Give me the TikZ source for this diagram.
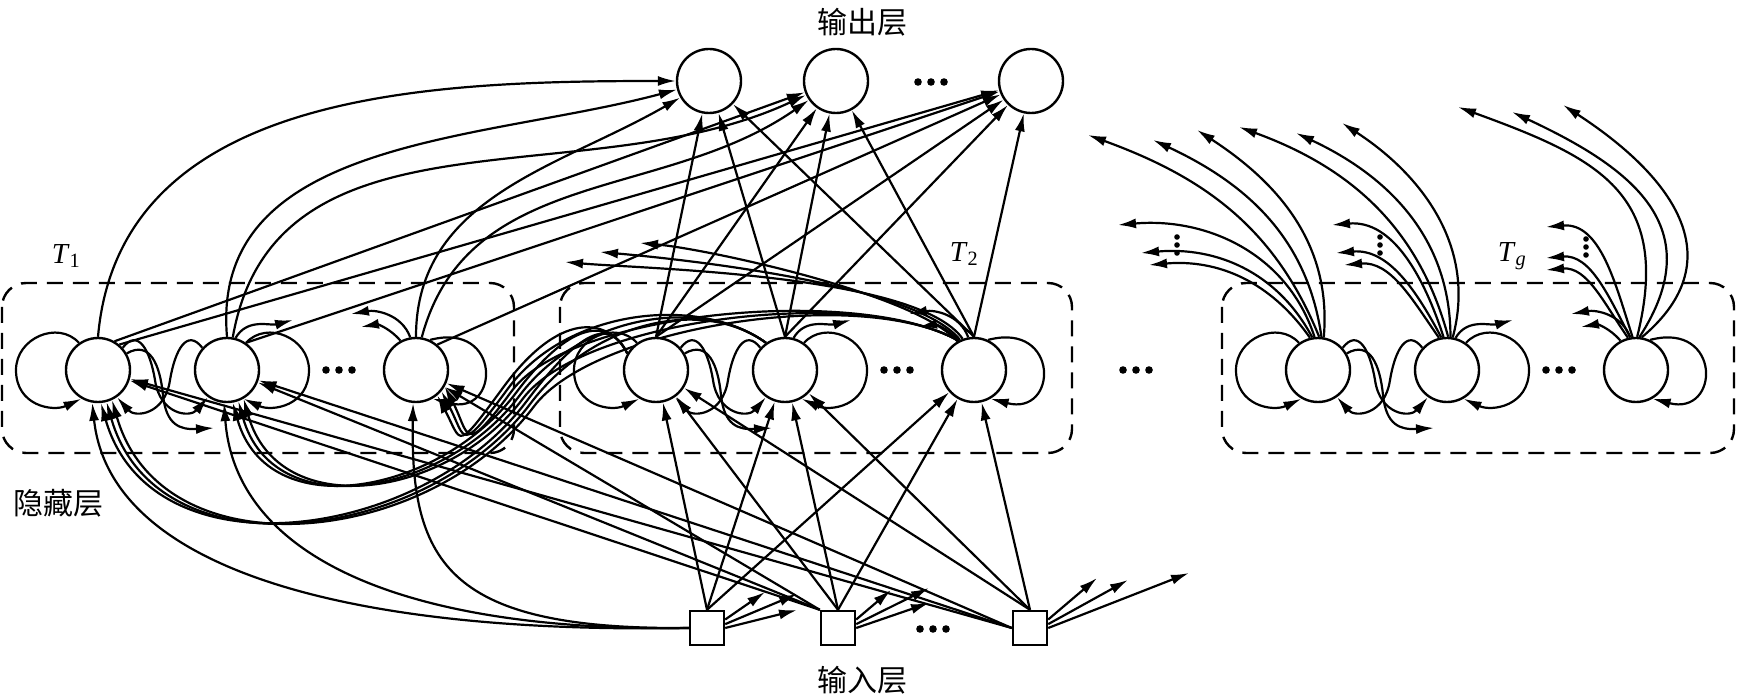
\documentclass[tikz,border=0pt]{standalone}
\usepackage{fontspec}
\setmainfont{Liberation Serif}
\newfontfamily\cjk{Noto Sans CJK SC}
\usetikzlibrary{arrows.meta,calc}
\pgfdeclarelayer{bg}
\pgfsetlayers{bg,main}
\begin{document}
\begin{tikzpicture}[x=1pt,y=-1pt,
  neuron/.style={circle,draw,fill=white,line width=2.4pt,minimum size=64pt,inner sep=0pt},
  inbox/.style={rectangle,draw,fill=white,line width=2.4pt,minimum size=34pt,inner sep=0pt},
  arr/.style={line width=2.2pt,-{Latex[length=18pt,width=10pt]}},
  grp/.style={line width=2.4pt,dash pattern=on 16pt off 10pt,rounded corners=24pt},
  cjklab/.style={font=\fontsize{30}{32}\selectfont\cjk},
  tlab/.style={font=\fontsize{29}{31}\selectfont}]
\useasboundingbox (0,0) rectangle (1738,700);

% ---------- labels
\node[cjklab] (lo) at (862,22) {输出层};
\node[cjklab] (lh) at (58,503) {隐藏层};
\node[cjklab] (li) at (862,680) {输入层};
\node[tlab] (t1) at (66,256) {\textit{T}\textsubscript{1}};
\node[tlab] (t2) at (964,254) {\textit{T}\textsubscript{2}};
\node[tlab] (tg) at (1512,256) {\textit{T}\textsubscript{\textit{g}}};

% ---------- output and input layers
\node[neuron] (O1) at (709,81) {};
\node[neuron] (O2) at (836,81) {};
\node[neuron] (O3) at (1031,81) {};
\foreach \k in {-13,0,13} {\fill (931+\k,82) circle (3.8pt);}
\node[inbox] (I1) at (707,628) {};
\node[inbox] (I2) at (838,628) {};
\node[inbox] (I3) at (1030,628) {};
\foreach \k in {-13,0,13} {\fill (933+\k,629) circle (3.8pt);}

% ---------- hidden groups
\foreach \g/\x in {A/98,B/656,C/1318} {
  \node[neuron] (\g1) at (\x,370) {};
  \node[neuron] (\g2) at (\x+129,370) {};
  \node[neuron] (\g3) at (\x+318,370) {};
  \foreach \k in {-13,0,13} {\fill (\x+241+\k,370) circle (3.8pt);}
}
\foreach \k in {-13,0,13} {\fill (1136+\k,370) circle (3.8pt);}

\begin{pgfonlayer}{bg}
% ---------- inside each group
\foreach \g/\x in {A/98,B/656,C/1318} {
  \draw[grp] (\x-96,283) rectangle (\x+416,453);
  \draw[arr] (\g1.125) .. controls ($(\g1)+(-40,-50)$) and ($(\g1)+(-82,-32)$) .. ($(\g1)+(-82,0)$)
     .. controls ($(\g1)+(-82,36)$) and ($(\g1)+(-45,42)$) .. (\g1.240);
  \draw[arr] (\g2.55) .. controls ($(\g2)+(40,-50)$) and ($(\g2)+(82,-32)$) .. ($(\g2)+(82,0)$)
     .. controls ($(\g2)+(82,36)$) and ($(\g2)+(45,42)$) .. (\g2.-60);
  \draw[arr] (\g3.65) .. controls ($(\g3.65)+(72,-19)$) and ($(\g3.-60)+(68,18)$) .. (\g3.-60);
  \draw[arr] (\g1.42) .. controls ($(\g1)+(40,-42)$) and ($(\g1)+(52,-20)$) .. ($(\g1)+(57,10)$)
     .. controls ($(\g1)+(62,45)$) and ($(\g1)+(92,48)$) .. (\g2.235);
  \draw[arr] (\g2.138) .. controls ($(\g1)+(89,-42)$) and ($(\g1)+(77,-20)$) .. ($(\g1)+(72,10)$)
     .. controls ($(\g1)+(67,45)$) and ($(\g1)+(37,48)$) .. (\g1.-55);
  \coordinate (\g f1) at ($(\g1)+(116,58)$);
  \draw[arr] (\g1.30) .. controls ($(\g1)+(52,-30)$) and ($(\g1)+(62,-5)$) .. ($(\g1)+(65,25)$)
     .. controls ($(\g1)+(68,55)$) and ($(\g1)+(82,60)$) .. (\g f1);
  \coordinate (\g f2) at ($(\g2)+(66,-50)$);
  \draw[arr] (\g2.75) to[out=60,in=195] (\g f2);
  \coordinate (\g f3) at ($(\g3)+(-65,-56)$);
  \coordinate (\g f4) at ($(\g3)+(-55,-43)$);
  \draw[arr] (\g3.100) to[out=110,in=10] (\g f3);
  \draw[arr] (\g3.118) to[out=130,in=10] (\g f4);
}

% ---------- hidden -> output
\foreach \b in {B1,B2,B3} {\foreach \o in {O1,O2,O3} {\draw[arr] (\b.north) -- (\o);}}
\draw[arr] (A1.north) to[out=85,in=180] (O1);
\draw[arr] (A2.north) to[out=95,in=195] (O1);
\draw[arr] (A3.north) to[out=90,in=210] (O1);
\draw[arr] (A1.60) -- (O2);
\draw[arr] (A2.80) to[out=80,in=205] (O2);
\draw[arr] (A3.80) to[out=75,in=215] (O2);
\draw[arr] (A1.50) -- (O3);
\draw[arr] (A2.55) -- (O3);
\draw[arr] (A3.50) -- (O3);

% ---------- input -> hidden
\foreach \i in {I1,I2,I3} {\foreach \b in {B1,B2,B3} {\draw[arr] (\i.north) -- (\b);}}
\foreach \a in {A1,A2,A3} {\draw[arr] (I2.north west) -- (\a); \draw[arr] (I3.west) -- (\a);}
\draw[arr] (I1.west) .. controls (350,634) and (110,570) .. (A1.-100);
\draw[arr] (I1.west) .. controls (400,632) and (235,555) .. (A2.-95);
\draw[arr] (I1.west) .. controls (450,630) and (410,565) .. (A3.-95);

% ---------- input free arrows (to later groups)
\coordinate (i1a) at (765,592); \coordinate (i1b) at (797,594); \coordinate (i1c) at (797,610);
\coordinate (i2a) at (891,590); \coordinate (i2b) at (929,588); \coordinate (i2c) at (929,603);
\coordinate (i3a) at (1097,578); \coordinate (i3b) at (1128,580); \coordinate (i3c) at (1189,573);
\foreach \n/\p in {1/I1,2/I2,3/I3} {
  \draw[arr] (\p.25) -- (i\n a);
  \draw[arr] (\p.12) -- (i\n b);
  \draw[arr] (\p.0) -- (i\n c);
}

% ---------- T2 -> T1 bundle
\foreach \j/\sa/\cx/\cy in {1/150/612/322, 2/125/700/295, 3/118/860/285} {
  \foreach \i/\base/\ax/\ay/\bx/\by/\kk in {3/-50/-50/68/25/48/0, 2/-80/-75/100/35/125/3, 1/-85/-105/140/50/175/6} {
    \pgfmathsetmacro\d{4.5*(\kk+\j-1)}
    \pgfmathtruncatemacro\an{\base+10*(\j-1)}
    \draw[arr] (B\j.\sa) .. controls (\cx,\cy) and (565+0.8*\d,305+0.6*\d) .. (505+0.8*\d,385+0.6*\d)
       .. controls (505+0.8*\d+\ax,385+0.6*\d+\ay) and ($(A\i.\an)+(\bx,\by)$) .. (A\i.\an);
  }
}
% T2 free arrows to the left
\coordinate (b3a) at (565,262); \coordinate (b3b) at (600,252); \coordinate (b3c) at (640,243);
\draw[arr] (B3.110) to[out=125,in=-5,looseness=0.5] (b3a);
\draw[arr] (B3.115) to[out=128,in=-5,looseness=0.5] (b3b);
\draw[arr] (B3.120) to[out=132,in=-5,looseness=0.5] (b3c);

% ---------- Tg free arrows
\foreach \n/\oa/\ob/\oc/\lo/\la/\lb/\lc/\lD/\lE/\lF/\sa/\sb/\sc/\sD/\sE/\sF/\dx in {
  C1/112/98/85/1/-230/-235/-165/-230/-121/-240/-200/-145/-177/-117/-169/-105/-141,
  C2/105/90/75/1/-208/-243/-151/-237/-105/-247/-115/-145/-111/-117/-103/-105/-67,
  C3/76/57/40/1.3/-178/-263/-124/-258/-73/-265/-90/-143/-90/-112/-90/-100/-50} {
  \coordinate (\n l1) at ($(\n)+(\la,\lb)$);
  \coordinate (\n l2) at ($(\n)+(\lc,\lD)$);
  \coordinate (\n l3) at ($(\n)+(\lE,\lF)$);
  \coordinate (\n s1) at ($(\n)+(\sa,\sb)$);
  \coordinate (\n s2) at ($(\n)+(\sc,\sD)$);
  \coordinate (\n s3) at ($(\n)+(\sE,\sF)$);
  \draw[arr] (\n.88) to[out=\oa,in=-20,looseness=\lo] (\n l1);
  \draw[arr] (\n.84) to[out=\ob,in=-25,looseness=\lo] (\n l2);
  \draw[arr] (\n.80) to[out=\oc,in=-33,looseness=\lo] (\n l3);
  \draw[arr] (\n.96) to[out=108,in=5] (\n s1);
  \draw[arr] (\n.100) to[out=118,in=5] (\n s2);
  \draw[arr] (\n.104) to[out=125,in=5] (\n s3);
  \foreach \k in {-8,0,8} {\fill ($(\n)+(\dx,\sb+20+\k)$) circle (2.8pt);}
}
\end{pgfonlayer}
\end{tikzpicture}
\end{document}
